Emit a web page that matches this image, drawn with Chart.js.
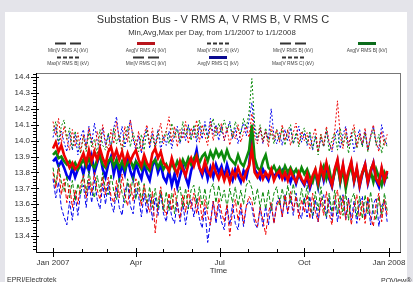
<!DOCTYPE html>
<html>
<head>
<meta charset="utf-8">
<script src="https://cdn.jsdelivr.net/npm/chart.js@4.4.1/dist/chart.umd.min.js"></script>
<style>
  html, body { margin: 0; padding: 0; background: #e4e4ea; }
  #panel { position: absolute; left: 5px; top: 12px; width: 402px; height: 270px; background: #fff; }
  #wrap { position: absolute; left: 0; top: 0; width: 413px; height: 282px; }
</style>
</head>
<body>
<div id="panel"></div>
<div id="wrap"><canvas id="chart" width="413" height="282"></canvas></div>
<script>
// one value every 3 days, day 0 = 1/1/2007
const stepDays = 3;

const minA = [13.80,13.70,13.83,13.66,13.76,13.61,13.72,13.58,13.69,13.60,13.73,
  13.78,13.64,13.76,13.67,13.80,13.69,13.63,13.77,13.66,
  13.77,13.65,13.61,13.75,13.64,13.79,13.66,13.59,13.73,13.62,13.76,
  13.70,13.59,13.72,13.61,13.55,13.68,13.42,13.60,13.71,13.58,
  13.53,13.67,13.56,13.70,13.58,13.51,13.66,13.55,13.69,13.57,
  13.67,13.54,13.65,13.50,13.63,13.53,13.47,13.62,13.51,13.64,
  13.55,13.49,13.60,13.40,13.56,13.63,13.50,13.61,13.48,13.59,13.65,
  13.62,13.52,
  13.46,13.58,13.50,13.41,13.55,13.61,13.48,13.59,
  13.63,13.52,13.66,13.55,13.68,13.56,13.65,13.51,13.63,13.55,
  13.66,13.51,13.67,13.55,13.49,13.64,13.53,13.68,13.54,13.47,
  13.62,13.69,13.51,13.65,13.50,13.63,13.47,13.58,13.66,13.50,
  13.62,13.48,13.65,13.52,13.46,13.61,13.67,13.49,13.63,13.53];
const avgA = [13.95,13.99,13.93,13.97,13.91,13.87,13.83,13.86,13.82,13.84,13.88,
  13.92,13.86,13.94,13.87,13.93,13.88,13.95,13.89,13.85,
  13.93,13.96,13.89,13.94,13.88,13.93,13.86,13.92,13.87,13.91,13.94,
  13.88,13.84,13.91,13.86,13.83,13.92,13.95,13.89,13.93,13.86,
  13.84,13.81,13.89,13.83,13.79,13.87,13.82,13.78,13.85,13.89,
  13.84,13.90,13.83,13.80,13.87,13.81,13.78,13.85,13.80,13.76,
  13.81,13.75,13.80,13.74,13.81,13.77,13.83,13.78,13.75,13.81,13.84,
  13.95,13.80,
  13.77,13.81,13.76,13.80,13.77,13.82,13.75,13.79,
  13.81,13.76,13.80,13.75,13.81,13.77,13.74,13.80,13.76,13.73,
  13.79,13.72,13.78,13.82,13.74,13.84,13.77,13.86,13.78,13.72,
  13.82,13.88,13.76,13.85,13.74,13.81,13.87,13.75,13.83,13.72,
  13.80,13.85,13.74,13.81,13.86,13.76,13.73,13.83,13.75,13.81];
const maxA = [14.12,14.03,14.14,13.98,14.09,14.01,13.94,14.07,13.96,14.05,13.93,
  14.04,13.95,14.08,14.00,13.92,14.06,13.97,14.10,13.99,
  13.94,14.07,13.98,14.12,14.01,13.95,14.09,13.99,14.13,14.02,13.96,
  14.06,13.93,14.04,14.10,13.97,14.08,13.95,14.03,14.11,13.98,
  14.06,14.15,13.99,14.09,13.96,14.07,14.01,14.12,13.98,14.08,
  14.02,14.13,13.99,14.10,14.03,13.97,14.12,14.00,14.09,14.04,
  14.11,14.00,14.08,13.97,14.06,14.01,14.10,13.99,14.05,14.09,14.02,
  14.17,14.03,
  13.98,14.08,13.99,14.06,13.96,14.09,14.01,14.07,
  13.99,14.10,14.00,14.07,13.97,14.05,14.11,13.98,14.06,14.00,
  14.05,13.95,14.02,14.08,13.93,14.04,13.97,14.09,13.99,13.94,
  14.06,14.25,14.03,13.95,14.08,13.97,14.04,14.10,13.96,14.05,
  13.98,14.08,13.94,14.03,14.10,13.99,13.93,14.06,13.97,14.04];

const minB = [13.83,13.72,13.85,13.74,13.68,13.78,13.64,13.75,13.62,13.73,13.66,
  13.79,13.67,13.81,13.70,13.64,13.78,13.68,13.80,13.69,
  13.66,13.79,13.68,13.63,13.77,13.67,13.61,13.76,13.65,13.78,13.63,
  13.75,13.62,13.73,13.60,13.71,13.58,13.70,13.57,13.69,13.56,
  13.68,13.56,13.67,13.54,13.66,13.71,13.58,13.70,13.57,13.69,
  13.72,13.60,13.71,13.59,13.70,13.57,13.69,13.73,13.61,13.72,
  13.62,13.69,13.58,13.70,13.61,13.71,13.59,13.69,13.60,13.72,13.75,
  13.70,13.60,
  13.70,13.58,13.68,13.57,13.69,13.56,13.67,13.71,
  13.59,13.70,13.60,13.72,13.61,13.73,13.62,13.58,13.70,13.60,
  13.72,13.58,13.53,13.68,13.56,13.71,13.57,13.52,13.67,13.55,
  13.69,13.54,13.66,13.53,13.68,13.50,13.63,13.67,13.52,13.65,
  13.51,13.66,13.54,13.68,13.55,13.50,13.65,13.53,13.67,13.56];
const avgB = [13.91,13.93,13.89,13.90,13.87,13.85,13.87,13.83,13.86,13.82,13.85,
  13.88,13.84,13.89,13.85,13.83,13.88,13.90,13.85,13.83,
  13.87,13.89,13.84,13.88,13.83,13.87,13.82,13.86,13.88,13.83,13.87,
  13.85,13.82,13.87,13.83,13.81,13.86,13.88,13.83,13.87,13.82,
  13.85,13.81,13.86,13.82,13.87,13.83,13.88,13.84,13.89,13.85,
  13.89,13.91,13.86,13.90,13.92,13.87,13.93,13.89,13.94,13.90,
  13.93,13.88,13.94,13.89,13.87,13.85,13.91,13.86,13.84,13.89,13.94,
  14.10,13.89,
  13.83,13.81,13.87,13.91,13.83,13.81,13.84,13.80,
  13.83,13.79,13.84,13.80,13.83,13.79,13.82,13.78,13.83,13.79,
  13.82,13.77,13.74,13.81,13.72,13.80,13.84,13.76,13.82,13.73,
  13.80,13.85,13.74,13.82,13.70,13.79,13.84,13.75,13.81,13.73,
  13.80,13.83,13.75,13.81,13.74,13.82,13.77,13.72,13.80,13.76];
const maxB = [14.06,14.12,13.99,14.09,14.13,14.01,14.08,13.95,14.06,13.98,13.92,
  14.03,13.93,14.05,13.96,14.01,13.91,14.07,13.97,13.94,
  14.05,13.95,14.08,13.98,14.04,13.92,14.02,14.09,13.96,14.05,13.99,
  13.93,14.04,13.94,14.07,13.98,14.03,13.95,14.06,13.99,14.02,
  14.06,13.98,14.11,14.02,14.07,13.99,14.12,14.03,14.09,14.00,
  14.10,14.02,14.13,14.04,14.09,14.01,14.08,14.14,14.03,14.11,
  14.05,14.13,14.06,14.11,14.02,14.12,14.07,14.04,14.14,14.08,14.18,
  14.39,14.10,
  14.02,14.10,14.00,14.08,13.99,14.06,13.98,14.07,
  14.00,14.08,13.97,14.06,14.10,13.98,14.05,13.96,14.04,14.08,
  13.98,14.06,13.95,14.03,13.91,14.04,13.96,14.07,13.93,14.01,
  14.05,13.94,14.08,13.97,14.04,13.92,14.02,14.07,13.95,14.03,
  13.96,14.05,13.93,14.02,14.07,13.97,14.04,13.92,14.01,13.96];

const minC = [13.76,13.64,13.74,13.58,13.52,13.47,13.62,13.50,13.66,13.53,13.68,
  13.72,13.58,13.74,13.61,13.76,13.63,13.57,13.73,13.60,
  13.74,13.61,13.55,13.71,13.58,13.53,13.68,13.73,13.59,13.54,13.70,
  13.65,13.52,13.67,13.54,13.66,13.50,13.64,13.53,13.67,13.54,
  13.49,13.62,13.52,13.48,13.62,13.49,13.61,13.47,13.59,13.63,
  13.52,13.64,13.51,13.45,13.58,13.36,13.49,13.62,13.48,13.60,
  13.49,13.44,13.59,13.47,13.60,13.48,13.44,13.58,13.46,13.59,13.62,
  13.58,13.48,
  13.45,13.58,13.46,13.59,13.47,13.60,13.48,13.61,
  13.64,13.52,13.66,13.54,13.65,13.53,13.67,13.55,13.51,13.64,
  13.52,13.65,13.51,13.63,13.49,13.62,13.66,13.51,13.64,13.50,
  13.63,13.49,13.61,13.66,13.51,13.64,13.50,13.62,13.48,13.61,
  13.65,13.51,13.63,13.47,13.60,13.64,13.46,13.59,13.62,13.49];
const avgC = [13.87,13.89,13.84,13.87,13.83,13.78,13.76,13.83,13.77,13.82,13.85,
  13.79,13.87,13.81,13.90,13.80,13.86,13.92,13.82,13.77,
  13.85,13.90,13.79,13.87,13.77,13.85,13.79,13.89,13.81,13.76,13.86,
  13.80,13.76,13.85,13.79,13.75,13.84,13.88,13.80,13.85,13.77,
  13.74,13.81,13.72,13.79,13.71,13.78,13.84,13.77,13.72,13.81,
  13.87,13.94,13.83,13.78,13.84,13.76,13.83,13.77,13.85,13.80,
  13.84,13.77,13.85,13.79,13.75,13.82,13.78,13.74,13.81,13.77,13.85,
  14.02,13.82,
  13.79,13.76,13.82,13.78,13.75,13.81,13.77,13.80,
  13.77,13.81,13.76,13.80,13.74,13.79,13.73,13.79,13.75,13.72,
  13.77,13.70,13.76,13.80,13.71,13.82,13.75,13.84,13.76,13.71,
  13.81,13.87,13.74,13.84,13.72,13.80,13.86,13.74,13.82,13.71,
  13.79,13.85,13.73,13.80,13.86,13.75,13.71,13.82,13.74,13.80];
const maxC = [14.02,14.09,13.97,14.06,13.99,13.93,14.05,13.94,14.04,13.91,14.02,
  14.07,13.96,14.09,13.98,14.11,14.00,13.94,14.08,13.97,
  14.04,13.95,14.08,14.15,13.99,14.09,13.96,14.05,14.13,14.01,13.94,
  14.03,13.92,14.02,14.08,13.95,14.05,13.97,14.07,13.94,14.03,
  13.97,14.06,13.95,14.04,14.09,13.98,14.07,14.00,14.10,14.02,
  14.08,13.99,14.09,14.01,14.12,14.03,14.14,14.04,14.10,14.00,
  14.09,14.00,14.07,14.12,14.01,14.08,13.98,14.06,14.11,14.03,14.13,
  14.24,14.06,
  14.00,14.08,13.98,14.06,14.01,14.20,14.03,13.98,
  14.05,13.97,14.07,14.00,14.08,13.98,14.03,14.09,13.99,14.05,
  13.97,14.04,13.94,14.03,13.93,14.02,13.96,14.06,13.98,13.93,
  14.02,14.07,13.95,14.04,14.09,13.96,14.05,13.93,14.02,14.07,
  13.97,14.06,13.94,14.03,14.09,13.98,13.95,14.10,14.01,13.97];

const seriesLabels = ['Min[V RMS A] (kV)', 'Avg[V RMS A] (kV)', 'Max[V RMS A] (kV)',
  'Min[V RMS B] (kV)', 'Avg[V RMS B] (kV)', 'Max[V RMS B] (kV)',
  'Min[V RMS C] (kV)', 'Avg[V RMS C] (kV)', 'Max[V RMS C] (kV)'];
const seriesValues = [minA, avgA, maxA, minB, avgB, maxB, minC, avgC, maxC];

// x ticks: day of year -> label
const xTickDays = [0, 90, 181, 273, 365];
const xTickLabels = ['Jan 2007', 'Apr', 'Jul', 'Oct', 'Jan 2008'];
const monthDays = [31, 59, 120, 151, 212, 243, 304, 334];
const yTicks = [13.4, 13.5, 13.6, 13.7, 13.8, 13.9, 14.0, 14.1, 14.2, 14.3, 14.4];

const lineColors = ['#ee0000', '#0b8a0b', '#0000ee'];
const legendAvgColors = ['#b8141c', '#0b6b1b', '#0a0a90'];

Chart.defaults.font.family = '"Liberation Sans", Arial, sans-serif';

const datasets = seriesValues.map((vals, k) => {
  const phase = Math.floor(k / 3);
  const kind = ['min', 'avg', 'max'][k % 3];
  return {
    label: seriesLabels[k],
    kind: kind,
    data: vals.map((v, i) => ({ x: i * stepDays, y: v })),
    borderColor: lineColors[phase],
    borderWidth: kind === 'avg' ? 2.6 : 1,
    borderDash: kind === 'min' ? [4, 2] : (kind === 'max' ? [2, 2] : []),
    pointRadius: 0,
    tension: 0,
    fill: false
  };
});

const decor = {
  id: 'decor',
  afterDraw(chart) {
    const { ctx, chartArea: a, scales: { x, y } } = chart;
    ctx.save();
    ctx.setLineDash([]);

    // plot box
    ctx.strokeStyle = '#777';
    ctx.lineWidth = 1;
    ctx.strokeRect(a.left + 0.5, a.top + 0.5, a.right - a.left - 1, a.bottom - a.top);
    ctx.strokeStyle = '#000';
    ctx.beginPath();
    ctx.moveTo(a.left + 0.5, a.top);
    ctx.lineTo(a.left + 0.5, a.bottom + 0.5);
    ctx.lineTo(a.right, a.bottom + 0.5);
    ctx.stroke();

    // y ticks, major + minor
    ctx.beginPath();
    for (let v = 13.32; v <= 14.42; v += 0.02) {
      const py = Math.round(y.getPixelForValue(v)) + 0.5;
      const major = Math.abs(v * 10 - Math.round(v * 10)) < 0.01;
      ctx.moveTo(a.left - (major ? 5 : 3), py);
      ctx.lineTo(a.left + (major ? 3 : 0), py);
    }
    // x ticks
    xTickDays.forEach(d => {
      const px = Math.round(x.getPixelForValue(d)) + 0.5;
      ctx.moveTo(px, a.bottom - 4);
      ctx.lineTo(px, a.bottom + 5);
    });
    monthDays.forEach(d => {
      const px = Math.round(x.getPixelForValue(d)) + 0.5;
      ctx.moveTo(px, a.bottom - 3);
      ctx.lineTo(px, a.bottom);
    });
    ctx.stroke();

    // titles
    ctx.fillStyle = '#333';
    ctx.textAlign = 'center';
    ctx.textBaseline = 'middle';
    ctx.font = '11px "Liberation Sans", Arial, sans-serif';
    ctx.fillText('Substation Bus - V RMS A, V RMS B, V RMS C', 213, 20);
    ctx.font = '7.8px "Liberation Sans", Arial, sans-serif';
    ctx.fillText('Min,Avg,Max per Day, from 1/1/2007 to 1/1/2008', 212, 32.5);
    ctx.font = '8px "Liberation Sans", Arial, sans-serif';
    ctx.fillText('Time', (a.left + a.right) / 2, 270.5);

    ctx.textAlign = 'left';
    ctx.textBaseline = 'top';
    ctx.font = '7px "Liberation Sans", Arial, sans-serif';
    ctx.fillText('EPRI/Electrotek', 7, 277);
    ctx.fillText('PQView\u00ae', 381, 278);

    // legend
    const colX = [68, 146, 218, 293, 367];
    chart.data.datasets.forEach((ds, k) => {
      const row = Math.floor(k / 5), col = k % 5;
      const cx = colX[col];
      const ly = row === 0 ? 43.5 : 57.5;
      const ty = row === 0 ? 50.5 : 64;
      const phase = Math.floor(k / 3);
      ctx.beginPath();
      if (ds.kind === 'avg') {
        ctx.setLineDash([]);
        ctx.strokeStyle = legendAvgColors[phase];
        ctx.lineWidth = 3;
        ctx.moveTo(cx - 9, ly); ctx.lineTo(cx + 9, ly);
      } else if (ds.kind === 'min') {
        ctx.setLineDash([11, 4]);
        ctx.strokeStyle = '#333';
        ctx.lineWidth = 2;
        ctx.moveTo(cx - 13, ly); ctx.lineTo(cx + 13, ly);
      } else {
        ctx.setLineDash([4, 2]);
        ctx.strokeStyle = '#333';
        ctx.lineWidth = 2;
        ctx.moveTo(cx - 11, ly); ctx.lineTo(cx + 11, ly);
      }
      ctx.stroke();
      ctx.setLineDash([]);
      ctx.fillStyle = '#444';
      ctx.textAlign = 'center';
      ctx.textBaseline = 'middle';
      ctx.font = '4.8px "Liberation Sans", Arial, sans-serif';
      ctx.fillText(ds.label, cx, ty);
    });
    ctx.restore();
  }
};

new Chart(document.getElementById('chart'), {
  type: 'line',
  data: { datasets: datasets },
  options: {
    responsive: false,
    animation: false,
    events: [],
    layout: { padding: { top: 73, right: 12, left: 0, bottom: 0 } },
    plugins: { legend: { display: false }, title: { display: false }, tooltip: { enabled: false } },
    scales: {
      x: {
        type: 'linear',
        min: -18.5,
        max: 378,
        grid: { display: false, drawTicks: false },
        border: { display: false },
        afterBuildTicks: s => { s.ticks = xTickDays.map(v => ({ value: v })); },
        afterFit: s => { s.height = 30; },
        ticks: {
          autoSkip: false,
          maxRotation: 0,
          padding: 6,
          color: '#333',
          font: { size: 8 },
          callback: v => xTickLabels[xTickDays.indexOf(v)]
        }
      },
      y: {
        min: 13.3,
        max: 14.425,
        grid: { display: false, drawTicks: false },
        border: { display: false },
        afterBuildTicks: s => { s.ticks = yTicks.map(v => ({ value: v })); },
        afterFit: s => { s.width = 36; },
        ticks: {
          padding: 6,
          color: '#333',
          font: { size: 8 },
          callback: v => v.toFixed(1)
        }
      }
    }
  },
  plugins: [decor]
});
</script>
</body>
</html>
